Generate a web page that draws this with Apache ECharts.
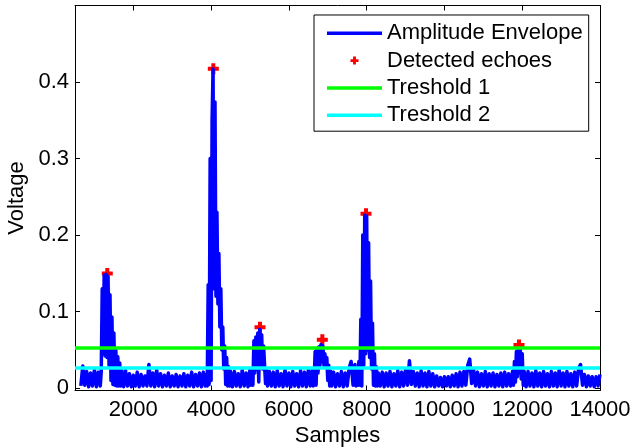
<!DOCTYPE html>
<html><head><meta charset="utf-8">
<script src="https://cdn.jsdelivr.net/npm/echarts@6/dist/echarts.min.js"></script>
<style>html,body{margin:0;padding:0;background:#fff}#c{width:632px;height:448px}</style>
</head><body><div id="c"></div>
<script>
const samples = [
 650,700,750,800,850,900,950,1000,1050,1100,1150,1175,
 1200,1225,1250,1275,1300,1325,1350,1375,1400,1425,1450,1475,1500,1525,1550,1575,1600,1625,1650,1675,1700,1750,
 1800,1850,1900,1950,2000,2050,2100,2150,2200,2250,2300,2350,2400,2450,2500,2550,2600,2650,2700,2750,2800,2850,
 2900,2950,3000,3050,3100,3150,3200,3250,3300,3350,3400,3450,3500,3550,3600,3650,3700,3750,3800,3850,3875,
 3900,3925,3950,3975,4000,4025,4050,4075,4100,4125,4150,4175,4200,4225,4250,4275,4300,4325,4350,4375,4400,4425,4450,4475,4500,
 4550,4600,4650,4700,4750,4800,4850,4900,4950,5000,5025,
 5050,5075,5100,5125,5150,5175,5200,5225,5250,5275,5300,5325,5350,5375,5400,5425,5450,
 5500,5550,5600,5650,5700,5750,5800,5850,5900,5950,6000,6050,6100,6150,6200,6250,6300,6350,6400,6450,6500,6550,6600,6625,
 6650,6675,6700,6725,6750,6775,6800,6825,6850,6875,6900,6925,6950,6975,7000,7025,7050,7075,
 7100,7150,7200,7250,7300,7350,7400,7450,7500,7550,7600,7650,7700,7725,
 7750,7775,7800,7825,7850,7875,7900,7925,7950,7975,8000,8025,8050,8075,8100,8125,8150,8175,8200,8225,8250,8275,8300,
 8350,8400,8450,8500,8550,8600,8650,8700,8750,8800,8850,8900,8950,9000,9050,9100,9150,9200,9250,9300,9350,9400,9450,
 9500,9550,9600,9650,9700,9750,9800,9850,9900,9950,10000,10050,10100,10150,10200,10250,10300,10350,10400,10450,10500,
 10550,10600,10650,10700,10750,10800,10850,10900,10950,11000,11050,11100,11150,11200,11250,11300,11350,11400,11450,
 11500,11550,11600,11650,11700,11750,
 11775,11800,11825,11850,11875,11900,11925,11950,11975,12000,12025,12050,
 12100,12150,12200,12250,12300,12350,12400,12450,12500,12550,12600,12650,12700,12750,12800,12850,12900,12950,13000,
 13050,13100,13150,13200,13250,13300,13350,13400,13450,13500,13550,13600,13650,13700,13750,13800,13850,13900,13950,14000
];
const envelope = [
 0.003,0.029,0.004,0.022,0.002,0.020,0.003,0.024,0.002,0.021,0.003,0.022,
 0.130,0.045,0.148,0.042,0.149,0.040,0.146,0.030,0.122,0.010,0.093,0.005,0.072,0.004,0.050,0.003,0.041,0.003,0.033,0.003,0.024,0.002,
 0.023,0.003,0.019,0.002,0.017,0.003,0.021,0.002,0.018,0.003,0.016,0.003,0.031,0.003,0.020,0.002,0.024,0.003,0.019,0.002,0.017,0.003,
 0.020,0.002,0.016,0.003,0.018,0.002,0.016,0.003,0.019,0.002,0.017,0.003,0.021,0.002,0.018,0.003,0.020,0.002,0.021,0.003,0.018,
 0.003,0.135,0.005,0.300,0.010,0.350,0.417,0.130,0.374,0.120,0.230,0.110,0.176,0.080,0.130,0.050,0.080,0.025,0.055,0.005,0.040,0.003,0.028,0.003,0.022,
 0.002,0.022,0.003,0.019,0.002,0.024,0.003,0.020,0.002,0.025,0.004,
 0.024,0.004,0.062,0.020,0.067,0.025,0.072,0.008,0.077,0.030,0.070,0.025,0.055,0.030,0.006,0.025,0.003,
 0.022,0.003,0.021,0.002,0.023,0.003,0.019,0.002,0.024,0.003,0.020,0.002,0.022,0.003,0.019,0.002,0.023,0.003,0.021,0.002,0.024,0.003,0.024,0.003,
 0.010,0.048,0.004,0.052,0.020,0.054,0.030,0.057,0.035,0.055,0.030,0.045,0.035,0.040,0.010,0.030,0.003,0.022,
 0.003,0.021,0.002,0.019,0.003,0.022,0.002,0.020,0.003,0.026,0.035,0.004,0.031,0.003,
 0.022,0.004,0.035,0.004,0.090,0.003,0.200,0.030,0.226,0.045,0.225,0.050,0.190,0.040,0.140,0.025,0.085,0.004,0.045,0.003,0.028,0.003,0.020,
 0.003,0.021,0.002,0.020,0.003,0.022,0.002,0.019,0.003,0.023,0.002,0.021,0.003,0.024,0.004,0.036,0.005,0.022,0.003,0.020,0.002,0.023,0.003,
 0.020,0.002,0.022,0.003,0.019,0.002,0.016,0.003,0.014,0.002,0.015,0.003,0.015,0.002,0.017,0.003,0.019,0.002,0.021,0.003,0.022,
 0.004,0.030,0.038,0.006,0.024,0.003,0.021,0.002,0.019,0.003,0.022,0.002,0.019,0.003,0.020,0.002,0.018,0.003,0.020,
 0.002,0.021,0.003,0.019,0.003,0.022,
 0.004,0.035,0.008,0.048,0.015,0.051,0.020,0.050,0.012,0.045,0.004,0.022,
 0.002,0.022,0.003,0.020,0.002,0.023,0.003,0.020,0.002,0.022,0.003,0.019,0.002,0.022,0.003,0.020,0.002,0.024,0.003,
 0.020,0.002,0.022,0.003,0.019,0.002,0.021,0.003,0.026,0.031,0.004,0.018,0.002,0.016,0.003,0.015,0.002,0.015,0.003,0.018
];
const echoSamples = [1330, 4057, 5257, 6860, 7983, 11917];
const echoVoltages = [0.150, 0.4175, 0.0796, 0.0634, 0.228, 0.0565];
const threshold1 = 0.0525;
const threshold2 = 0.0265;
const xTicks = [2000, 4000, 6000, 8000, 10000, 12000, 14000];
const yTicks = [0, 0.1, 0.2, 0.3, 0.4];
const xRange = [500, 14000];
const yRange = [-0.003, 0.5];
const seriesNames = ['Amplitude Envelope', 'Detected echoes', 'Treshold 1', 'Treshold 2'];

const FONT = 'Liberation Sans, Arial, Helvetica, sans-serif';
const plus = 'path://M3.5,0H7.5V3.5H11V7.5H7.5V11H3.5V7.5H0V3.5H3.5Z';
const bar = 'path://M0,0H55V3.5H0Z';
const axisLineStyle = {show: true, onZero: false, lineStyle: {color: '#000', width: 1}};

function xAxisDef(pos, showLabel) {
  return {
    type: 'value', position: pos, min: xRange[0], max: xRange[1],
    axisLine: axisLineStyle,
    axisTick: {show: true, inside: true, length: 5, customValues: xTicks, lineStyle: {color: '#000', width: 1}},
    axisLabel: {show: showLabel, customValues: xTicks, margin: 8, fontSize: 22, color: '#000', fontFamily: FONT,
      formatter: v => String(v)},
    splitLine: {show: false},
    name: showLabel ? 'Samples' : '', nameLocation: 'middle', nameGap: 31,
    nameTextStyle: {fontSize: 22, color: '#000', fontFamily: FONT}
  };
}
function yAxisDef(pos, showLabel) {
  return {
    type: 'value', position: pos, min: yRange[0], max: yRange[1],
    axisLine: axisLineStyle,
    axisTick: {show: true, inside: true, length: 5, customValues: yTicks, lineStyle: {color: '#000', width: 1}},
    axisLabel: {show: showLabel, customValues: yTicks, margin: 6, fontSize: 22, color: '#000', fontFamily: FONT,
      formatter: v => String(v)},
    splitLine: {show: false},
    name: showLabel ? 'Voltage' : '', nameLocation: 'middle', nameGap: 46.5,
    nameTextStyle: {fontSize: 22, color: '#000', fontFamily: FONT}
  };
}

const chart = echarts.init(document.getElementById('c'), null, {renderer: 'canvas'});
chart.setOption({
  animation: false,
  backgroundColor: '#fff',
  grid: {left: 75, right: 32, top: 5.5, bottom: 57.5, containLabel: false, outerBoundsMode: 'none'},
  xAxis: [xAxisDef('bottom', true), xAxisDef('top', false)],
  yAxis: [yAxisDef('left', true), yAxisDef('right', false)],
  legend: {
    show: true, orient: 'vertical', left: 314, top: 15,
    backgroundColor: '#fff', borderColor: '#000', borderWidth: 1, borderRadius: 0,
    padding: [7.3, 6, 5, 13], itemGap: 5.3, itemWidth: 55, itemHeight: 8,
    symbolKeepAspect: true,
    textStyle: {fontSize: 22, color: '#000', fontFamily: FONT, lineHeight: 22},
    data: [
      {name: seriesNames[0], icon: bar},
      {name: seriesNames[1], icon: plus},
      {name: seriesNames[2], icon: bar},
      {name: seriesNames[3], icon: bar}
    ],
    selectedMode: false
  },
  series: [
    {
      name: seriesNames[0], type: 'line', xAxisIndex: 0, yAxisIndex: 0,
      data: samples.map((s, i) => [s, envelope[i]]),
      symbol: 'none', showSymbol: false, smooth: false,
      lineStyle: {color: '#0000ff', width: 3.5, join: 'round'},
      itemStyle: {color: '#0000ff'}, clip: true
    },
    {
      name: seriesNames[1], type: 'scatter', xAxisIndex: 0, yAxisIndex: 0,
      data: echoSamples.map((s, i) => [s, echoVoltages[i]]),
      symbol: plus, symbolSize: 11, symbolKeepAspect: true,
      itemStyle: {color: '#ff0000', opacity: 1}
    },
    {
      name: seriesNames[2], type: 'line', xAxisIndex: 0, yAxisIndex: 0,
      data: [[xRange[0], threshold1], [xRange[1], threshold1]],
      symbol: 'none', showSymbol: false,
      lineStyle: {color: '#00ff00', width: 3.5}, itemStyle: {color: '#00ff00'}
    },
    {
      name: seriesNames[3], type: 'line', xAxisIndex: 0, yAxisIndex: 0,
      data: [[xRange[0], threshold2], [xRange[1], threshold2]],
      symbol: 'none', showSymbol: false,
      lineStyle: {color: '#00ffff', width: 3.5}, itemStyle: {color: '#00ffff'}
    }
  ]
});
</script>
</body></html>
